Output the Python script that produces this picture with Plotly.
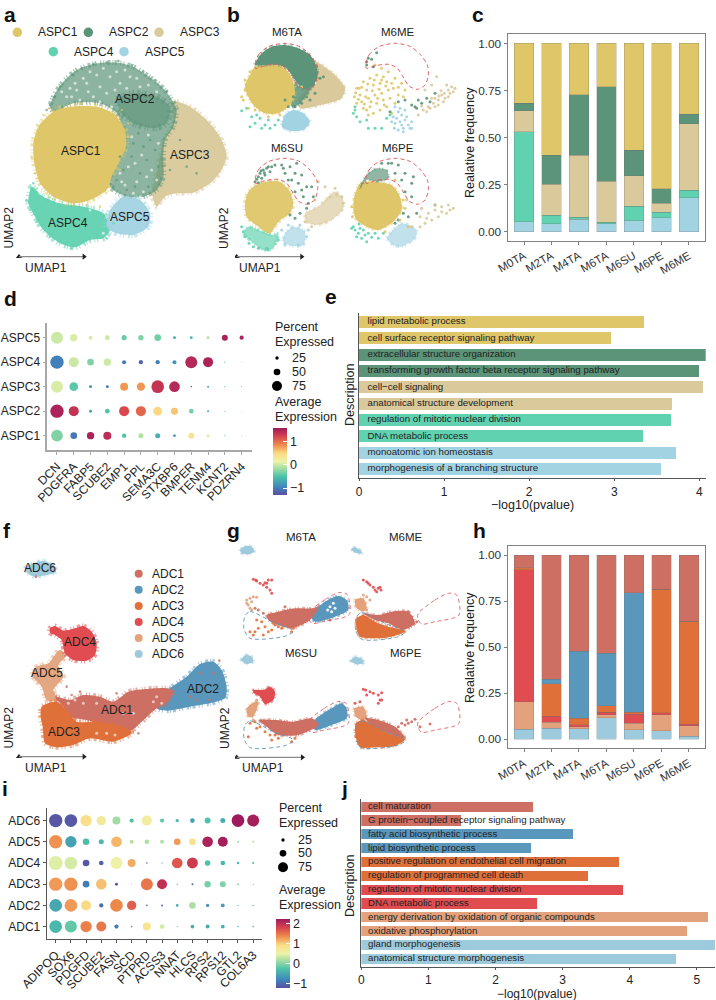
import plotly.graph_objects as go

W, H = 716, 1000
FONT = "Liberation Sans"

# ---------- palettes ----------
ASPC_COL = {"ASPC1": "#DEC669", "ASPC2": "#5B9478", "ASPC3": "#D9C99B", "ASPC4": "#60D2B0", "ASPC5": "#A2D3E2"}
ADC_COL = {"ADC1": "#CE6F63", "ADC2": "#5A97BC", "ADC3": "#E0703A", "ADC4": "#E04C50", "ADC5": "#E3A27C", "ADC6": "#9DCADC"}
EXPR_SCALE = [[0, "#5B50A2"], [0.12, "#3F86BC"], [0.28, "#4FC4A8"], [0.42, "#B5E2A3"], [0.5, "#EEF3A8"],
              [0.62, "#FBDC86"], [0.75, "#EE8A4B"], [0.88, "#D6414E"], [1, "#9E1A5C"]]

# ---------- composition bars ----------
SAMPLES = ["M0TA", "M2TA", "M4TA", "M6TA", "M6SU", "M6PE", "M6ME"]
ASPC_FREQ = {
    "ASPC5": [.053, .042, .065, .042, .058, .074, .181],
    "ASPC4": [.478, .045, .011, .009, .077, .029, .038],
    "ASPC3": [.111, .166, .331, .218, .162, .047, .353],
    "ASPC2": [.039, .154, .319, .501, .135, .078, .051],
    "ASPC1": [.319, .593, .274, .230, .568, .772, .377],
}
ADC_FREQ = {
    "ADC6": [.054, .061, .058, .118, .051, .047, .016],
    "ADC5": [.150, .031, .009, .014, .036, .085, .058],
    "ADC4": [.718, .033, .011, .016, .050, .011, .007],
    "ADC3": [.011, .177, .036, .035, .009, .671, .559],
    "ADC2": [.000, .023, .365, .284, .651, .000, .000],
    "ADC1": [.067, .675, .521, .533, .203, .186, .360],
}

# ---------- dot plots ----------
D_GENES = ["DCN", "PDGFRA", "FABP5", "SCUBE2", "EMP1", "PPL", "SEMA3C", "STXBP6", "BMPER", "TENM4", "KCNT2", "PDZRN4"]
D_ROWS = ["ASPC1", "ASPC2", "ASPC3", "ASPC4", "ASPC5"]
D_PCT = [
    [88, 50, 55, 60, 33, 38, 38, 20, 45, 22, 10, 8],
    [100, 75, 22, 35, 75, 75, 68, 52, 35, 15, 8, 5],
    [90, 65, 22, 22, 60, 62, 95, 80, 12, 15, 10, 8],
    [100, 75, 50, 55, 30, 32, 32, 30, 90, 75, 8, 5],
    [90, 55, 30, 35, 38, 40, 50, 22, 22, 22, 45, 32],
]
D_AVG = [
    [-.3, -1.05, 1.5, 1.4, -.5, -.1, -.65, -.85, .4, .05, -.3, -.2],
    [1.5, 1.35, -.75, -.5, 1.2, 1.05, .5, .6, -.35, -.7, -.6, -.6],
    [.05, -.45, -.9, -1.05, .8, .8, 1.35, 1.45, -1.0, -.7, -.4, -.3],
    [-1.0, 0, -.3, .0, -1.05, -1.15, -1.0, -.85, 1.45, 1.5, -.6, -.6],
    [0, .05, .05, 0, -.4, -.3, -.35, -.7, -.6, -.1, 1.5, 1.5],
]
I_GENES = ["ADIPOQ", "SOX6", "PDGFD", "SCUBE2", "FASN", "SCD", "PTPRD", "ACSS3", "NNAT", "HLCS", "RPS2", "RPS12", "GTL2", "COL6A3"]
I_ROWS = ["ADC1", "ADC2", "ADC3", "ADC4", "ADC5", "ADC6"]
I_PCT = [
    [95, 90, 85, 75, 32, 12, 60, 35, 8, 28, 30, 28, 12, 12],
    [95, 95, 75, 32, 95, 70, 12, 15, 20, 50, 25, 28, 8, 10],
    [100, 100, 50, 80, 22, 5, 90, 75, 8, 15, 48, 45, 12, 8],
    [105, 95, 50, 35, 90, 60, 12, 8, 80, 82, 42, 35, 18, 15],
    [100, 85, 50, 38, 80, 30, 35, 30, 50, 50, 80, 75, 15, 15],
    [100, 95, 85, 70, 60, 32, 75, 32, 25, 35, 45, 38, 95, 90],
]
I_AVG = [
    [-.4, -.2, 1.4, 1.45, -.9, -.8, .75, .35, -.6, -.5, -.5, -.5, -.3, -.4],
    [-.55, 1.25, .9, -1, 1.35, 1.6, -1.1, -.9, -.5, .15, -.7, -.65, -.5, -.5],
    [1.25, 1.3, -.9, 1.05, -1.2, -1, 1.45, 1.95, -.9, -1.1, -.1, -.05, -.5, -.6],
    [.4, .35, -1.2, -1.1, .5, 1.15, -1.1, -1, 1.65, 1.85, -.3, -.4, -.4, -.4],
    [1.3, -.6, -.35, -.4, 1.1, .2, .15, .2, 1.25, .8, 2.1, 2.15, .1, .2],
    [-1.2, -1.2, .85, .65, .1, -.3, .6, -.2, -.4, -.6, -.3, -.5, 2.2, 2.15],
]
LEGEND_PCT = [25, 50, 75]
PCT_TO_PX = 0.1333

# ---------- enrichment bars ----------
E_TERMS = ["lipid metabolic process", "cell surface receptor signaling pathway", "extracellular structure organization",
           "transforming growth factor beta receptor signaling pathway", "cell\u2212cell signaling",
           "anatomical structure development", "regulation of mitotic nuclear division", "DNA metabolic process",
           "monoatomic ion homeostasis", "morphogenesis of a branching structure"]
E_VALS = [3.35, 2.96, 4.075, 4.0, 4.04, 3.68, 3.67, 3.335, 3.73, 3.55]
E_GROUP = ["ASPC1", "ASPC1", "ASPC2", "ASPC2", "ASPC3", "ASPC3", "ASPC4", "ASPC4", "ASPC5", "ASPC5"]
J_TERMS = ["cell maturation", "G protein\u2212coupled receptor signaling pathway", "fatty acid biosynthetic process",
           "lipid biosynthetic process", "positive regulation of endothelial cell migration",
           "regulation of programmed cell death", "regulation of mitotic nuclear division", "DNA metabolic process",
           "energy derivation by oxidation of organic compounds", "oxidative phosphorylation", "gland morphogenesis",
           "anatomical structure morphogenesis"]
J_VALS = [2.56, 1.49, 3.15, 2.53, 3.84, 3.385, 3.90, 2.615, 5.16, 4.86, 5.27, 4.69]
J_GROUP = ["ADC1", "ADC1", "ADC2", "ADC2", "ADC3", "ADC3", "ADC4", "ADC4", "ADC5", "ADC5", "ADC6", "ADC6"]

# ---------- ASPC embedding: cluster outlines ----------
A_TAN = [(520, 305), (570, 320), (620, 360), (660, 410), (680, 465), (665, 510), (630, 550), (580, 578), (530, 580), (495, 590), (470, 620), (455, 580), (470, 520), (480, 470), (490, 420), (520, 370)]
A_GREEN = [(150, 320), (165, 280), (190, 245), (230, 210), (290, 190), (355, 188), (400, 200), (440, 225), (480, 255), (510, 290), (530, 330), (520, 380), (495, 420), (490, 470), (490, 530), (470, 570), (430, 590), (380, 590), (330, 560), (340, 500), (375, 430), (350, 340), (300, 310), (220, 310), (160, 335)]
A_GREEN_CORE = [(350, 300), (400, 280), (470, 290), (510, 320), (500, 370), (460, 385), (400, 370), (365, 340)]
A_YELLOW = [(160, 335), (210, 320), (290, 320), (340, 340), (375, 390), (378, 440), (360, 480), (335, 530), (320, 570), (270, 600), (220, 610), (160, 590), (120, 550), (103, 490), (100, 430), (115, 380)]
A_TEAL = [(95, 560), (130, 590), (180, 610), (250, 620), (310, 640), (330, 690), (310, 715), (270, 720), (225, 742), (180, 730), (130, 690), (105, 650), (85, 610), (88, 580)]
A_BLUE = [(370, 590), (420, 600), (450, 640), (445, 680), (400, 705), (350, 700), (320, 680), (330, 630)]
A_SPECK_GREEN = [(220, 225), (245, 205), (280, 193), (320, 187), (355, 183), (395, 195), (430, 215), (465, 240), (500, 275), (180, 260), (165, 290), (150, 315), (140, 330), (350, 540), (370, 510), (395, 470), (420, 520), (440, 480), (465, 450), (405, 560), (445, 560), (380, 570), (340, 560), (475, 500), (360, 470), (430, 440), (450, 420), (400, 430), (415, 400), (590, 520), (540, 420), (560, 500), (510, 510)]
A_SPECK_WHITE = [(230, 270), (260, 250), (300, 260), (330, 230), (280, 290), (240, 300), (200, 290), (360, 250), (390, 230), (420, 260), (320, 280), (350, 215), (290, 225), (250, 235), (210, 265), (300, 305), (335, 320), (455, 590), (430, 575), (400, 580), (365, 545), (470, 540), (440, 530), (350, 600), (310, 610), (200, 610), (120, 580), (270, 630), (310, 700), (185, 275), (225, 250), (270, 215), (310, 205), (375, 210), (410, 235), (445, 255), (470, 275), (215, 290), (265, 275), (345, 270), (380, 265), (395, 410), (425, 465), (385, 500), (455, 510), (410, 545), (360, 520), (445, 405), (475, 430), (405, 490), (375, 555), (420, 590)]
A_SPECK_YELLOW = [(130, 345), (95, 470), (105, 520), (140, 580), (200, 615), (260, 615), (300, 620), (360, 510), (385, 410), (240, 310), (180, 320), (385, 370), (365, 330), (150, 325)]
A_SPECK_TEAL = [(100, 550), (90, 630), (110, 665), (150, 710), (290, 705), (320, 715), (340, 670), (215, 745), (80, 600)]

# ---------- ASPC embedding split by sample ----------
B_RING = [(60, 195), (70, 165), (100, 140), (150, 130), (195, 140), (225, 165), (245, 195), (248, 225), (238, 255), (215, 268), (190, 258), (175, 235), (155, 205), (130, 193), (90, 197), (62, 205)]
B_RING_OFFSETS = [(0, 0), (332, 0), (0, 345), (332, 345)]

TA_GREEN = [(60, 195), (80, 160), (110, 140), (150, 135), (190, 145), (225, 165), (245, 200), (248, 230), (235, 255), (205, 268), (180, 240), (155, 205), (130, 195), (90, 195)]
TA_YELLOW = [(45, 225), (60, 200), (90, 195), (130, 195), (155, 210), (175, 245), (180, 285), (165, 315), (130, 340), (90, 340), (55, 315), (35, 280), (30, 255)]
TA_TAN = [(240, 185), (275, 205), (310, 235), (330, 265), (320, 295), (280, 310), (235, 320), (195, 325), (190, 300), (210, 275), (240, 255), (250, 220)]
TA_GREEN2 = [(180, 250), (205, 268), (240, 250), (215, 285), (190, 315), (170, 320)]
TA_BLUE = [(150, 345), (175, 330), (205, 340), (225, 365), (205, 390), (165, 392), (140, 380)]
TA_TEAL_PTS = [(20, 332), (35, 325), (45, 380), (60, 370), (75, 355), (90, 375), (100, 360), (105, 385), (120, 375), (130, 360), (80, 385), (65, 345), (50, 350)]
TA_GREEN_PTS = [(150, 300), (175, 290), (200, 310), (215, 290), (240, 280), (255, 235), (265, 230), (225, 300), (180, 320), (160, 320)]
TA_YELLOW_PTS = [(25, 300), (30, 270), (40, 325), (20, 290), (60, 330), (100, 350), (135, 345), (30, 240), (45, 215), (200, 260)]

ME_YELLOW_PTS = [(420, 195), (440, 205), (460, 215), (480, 235), (500, 250), (510, 270), (445, 230), (425, 225), (405, 235), (385, 245), (365, 265), (358, 290), (375, 285), (395, 270), (415, 255), (435, 250), (455, 245), (475, 265), (490, 285), (460, 270), (440, 280), (420, 285), (400, 295), (380, 305), (365, 310), (385, 325), (405, 320), (425, 310), (445, 300), (465, 295), (480, 310), (455, 320), (435, 330), (415, 340), (400, 345), (395, 330), (470, 340), (372, 265), (392, 290), (412, 272), (432, 268), (452, 258), (370, 298), (388, 312), (408, 305), (428, 295), (448, 315), (362, 278), (380, 262), (398, 252), (418, 240), (440, 240), (470, 250), (490, 262), (505, 290)]
ME_GREEN_PTS = [(400, 175), (425, 158), (410, 178), (395, 195), (415, 200), (395, 185), (490, 305), (510, 300), (530, 315), (545, 325), (560, 310), (575, 295), (585, 305), (550, 300), (600, 280), (465, 335), (540, 320)]
ME_TEAL_PTS = [(360, 320), (355, 340), (365, 350), (375, 365), (395, 360), (420, 385), (440, 385), (455, 355), (465, 345), (360, 330), (400, 385)]
ME_BLUE_PTS = [(480, 320), (490, 335), (475, 350), (500, 345), (510, 360), (495, 365), (480, 370), (520, 375), (505, 385), (490, 390), (530, 365), (525, 385), (470, 365), (510, 330), (485, 355), (500, 375), (515, 350), (495, 325), (505, 395), (478, 385), (530, 385)]
ME_TAN_PTS = [(650, 260), (640, 270), (620, 285), (630, 295), (610, 300), (595, 310), (580, 320), (565, 330), (550, 345), (640, 290), (655, 275), (625, 305), (600, 320), (610, 315), (575, 335), (590, 295), (660, 265), (605, 230), (590, 255), (570, 270), (635, 255), (618, 272), (628, 280), (600, 295), (645, 280), (585, 325), (560, 318), (612, 288)]

SU_YELLOW = [(55, 560), (90, 545), (135, 545), (165, 575), (175, 610), (165, 640), (130, 665), (105, 700), (70, 680), (35, 650), (30, 610), (40, 575)]
SU_TAN = [(210, 640), (250, 620), (300, 575), (325, 600), (325, 625), (290, 660), (245, 675), (215, 665)]
SU_TEAL = [(40, 680), (70, 690), (110, 705), (130, 700), (115, 745), (85, 750), (50, 725), (25, 700)]
SU_BLUE = [(150, 700), (175, 680), (210, 695), (205, 735), (170, 738), (145, 725)]
SU_GREEN_PTS = [(70, 530), (85, 510), (100, 500), (120, 495), (75, 520), (90, 525), (60, 545), (70, 548), (80, 535), (105, 515), (140, 495), (165, 500), (180, 520), (200, 525), (150, 520), (170, 540), (190, 550), (215, 560), (205, 590), (220, 610), (180, 575), (200, 570), (165, 645), (180, 655), (195, 640), (215, 625), (230, 560), (235, 590), (160, 540), (145, 505), (185, 490), (95, 505), (78, 512), (110, 500), (65, 538), (88, 518)]
SU_TAN_PTS = [(250, 545), (270, 560), (300, 565), (320, 590), (325, 610), (240, 600), (285, 590), (305, 585), (210, 665), (230, 680)]
SU_TEAL_PTS = [(20, 680), (30, 710), (55, 740), (95, 745), (25, 695), (130, 720), (100, 750), (70, 745), (42, 730)]
SU_BLUE_PTS = [(140, 690), (160, 675), (195, 675), (215, 710), (190, 735), (150, 735), (220, 690)]

PE_YELLOW = [(375, 550), (410, 545), (470, 555), (495, 590), (500, 630), (475, 665), (430, 690), (395, 680), (365, 660), (355, 630), (358, 590)]
PE_GREEN = [(375, 565), (390, 530), (425, 505), (455, 510), (460, 535), (430, 545), (395, 540)]
PE_BLUE = [(470, 695), (500, 670), (545, 690), (540, 715), (500, 740), (475, 735), (455, 715)]
PE_GREEN_PTS = [(470, 490), (490, 495), (510, 520), (530, 550), (510, 575), (530, 590), (480, 520), (500, 540), (535, 530), (545, 640), (520, 650), (490, 660), (480, 670), (505, 640), (600, 615), (440, 490), (460, 490)]
PE_TEAL_PTS = [(355, 680), (370, 700), (385, 690), (400, 700), (420, 700), (445, 700), (365, 710), (380, 715), (395, 725), (375, 685), (430, 715), (360, 690), (390, 705), (410, 712), (350, 685), (372, 672)]
PE_TAN_PTS = [(555, 650), (580, 640), (600, 630), (620, 620), (640, 615), (655, 625), (635, 640), (610, 650), (590, 660), (570, 670), (555, 680), (620, 635), (600, 615), (575, 655), (645, 630), (530, 680), (515, 600), (560, 625)]
PE_YELLOW_PTS = [(505, 600), (510, 625), (495, 660), (450, 695), (480, 540), (350, 620), (352, 650), (520, 680)]

# ---------- ADC embedding: cluster outlines ----------
F_ADC6 = [(75, 205), (100, 190), (130, 183), (160, 195), (168, 215), (140, 225), (105, 230), (85, 222)]
F_ADC4 = [(150, 385), (165, 378), (190, 392), (225, 385), (250, 378), (275, 395), (290, 430), (285, 465), (260, 482), (220, 480), (195, 460), (185, 420), (165, 405), (150, 398)]
F_ADC5 = [(178, 450), (200, 465), (175, 495), (190, 530), (160, 570), (175, 600), (140, 600), (125, 560), (95, 525), (110, 500), (145, 490), (165, 465)]
F_ADC1 = [(165, 590), (210, 600), (250, 585), (300, 590), (340, 605), (385, 575), (430, 568), (500, 565), (520, 575), (500, 610), (470, 625), (420, 670), (395, 690), (330, 680), (260, 660), (210, 650), (190, 620)]
F_ADC2 = [(510, 565), (560, 530), (600, 492), (640, 485), (665, 510), (680, 560), (675, 595), (630, 610), (570, 620), (500, 632), (470, 625), (490, 590)]
F_ADC3 = [(125, 620), (170, 605), (200, 630), (230, 665), (300, 665), (390, 690), (395, 700), (340, 725), (270, 715), (220, 735), (170, 742), (135, 730), (128, 680), (122, 650)]
F_ROSE_PTS = [(108, 230), (658, 482), (600, 520), (640, 520), (590, 600), (625, 600), (570, 590), (480, 600), (200, 560), (215, 585), (240, 575), (350, 580), (415, 700), (405, 680)]
F_WHITE_PTS = [(205, 610), (225, 600), (190, 590), (250, 610), (290, 610), (470, 590), (485, 610), (460, 605), (320, 700), (345, 705), (290, 700), (370, 640), (400, 640)]

# ---------- ADC embedding split by sample ----------
G_RING2 = [(550, 340), (600, 300), (640, 280), (665, 285), (672, 345), (600, 365), (560, 372), (548, 355)]
G_RING3 = [(365, 350), (380, 338), (450, 370), (510, 395), (490, 410), (380, 418), (362, 390)]
G_RING2_OFFSETS = [(-329, -2), (0, 0), (-332, 325), (0, 325)]
G_RING3_OFFSETS = [(-335, -3), (0, 0), (-335, 325), (0, 325)]

G_PANELS = {
    "ADC6": [[(15, 150), (30, 138), (50, 140), (58, 155), (40, 163), (20, 160)],
             [(348, 148), (360, 142), (380, 155), (380, 160), (360, 158)],
             [(18, 480), (35, 464), (50, 470), (55, 485), (35, 492)],
             [(346, 482), (362, 470), (385, 480), (385, 490), (365, 493)]],
    "ADC5": [[(360, 300), (385, 295), (395, 325), (385, 335), (365, 325)],
             [(35, 625), (60, 605), (70, 605), (55, 650), (40, 650)],
             [(358, 625), (385, 620), (395, 650), (385, 660), (362, 650)]],
    "ADC1": [[(95, 345), (130, 335), (180, 325), (235, 325), (250, 320), (225, 360), (170, 385), (130, 375), (100, 360)],
             [(385, 340), (430, 345), (470, 335), (520, 335), (540, 370), (505, 390), (460, 370), (420, 360)],
             [(70, 660), (120, 660), (175, 665), (230, 655), (250, 675), (190, 705), (130, 705), (95, 680)],
             [(390, 655), (430, 660), (480, 680), (505, 705), (510, 715), (460, 700), (415, 680)]],
    "ADC2": [[(225, 345), (270, 305), (310, 288), (335, 300), (340, 330), (300, 350), (240, 365)],
             [(240, 660), (290, 625), (320, 610), (335, 625), (335, 655), (290, 675), (240, 690)]],
    "ADC3": [[(365, 355), (385, 345), (420, 365), (460, 380), (505, 390), (510, 395), (470, 410), (420, 415), (375, 410), (365, 390)],
             [(362, 670), (385, 660), (420, 680), (460, 700), (510, 718), (480, 738), (420, 742), (375, 742), (362, 710)]],
    "ADC4": [[(55, 570), (85, 570), (105, 560), (120, 575), (115, 600), (90, 612), (75, 590), (55, 578)]],
}
G_POINTS = {
    "ADC4": [(55, 238), (65, 243), (75, 250), (85, 255), (95, 250), (110, 240), (100, 240), (95, 262), (105, 270), (110, 280), (90, 248), (62, 240),
             (385, 240), (395, 245), (405, 255), (415, 262), (430, 265), (438, 270), (425, 275), (420, 270), (435, 262), (400, 250),
             (385, 568), (392, 570), (405, 575), (415, 580), (430, 585), (440, 578), (435, 600), (430, 610), (395, 585), (360, 610), (375, 605), (440, 600)],
    "ADC5": [(35, 300), (45, 295), (55, 290), (65, 292), (40, 315), (45, 325), (50, 330), (35, 310), (50, 305),
             (385, 285), (395, 290), (405, 300), (395, 330), (65, 600), (55, 660)],
    "ADC3": [(45, 395), (60, 395), (70, 385), (90, 380), (110, 390), (120, 375), (170, 395), (175, 385), (80, 365), (100, 395), (55, 405), (85, 405), (130, 380), (115, 370), (65, 360), (140, 385),
             (45, 670), (60, 665), (75, 680), (90, 695), (110, 720), (120, 705), (130, 715), (170, 725), (180, 715), (65, 685), (40, 710), (105, 705)],
    "ADC1": [(85, 340), (70, 330), (60, 325), (150, 320), (285, 360), (520, 335), (530, 350), (545, 365),
             (485, 690), (490, 680), (500, 670), (515, 660), (530, 665), (540, 658), (555, 680), (585, 672), (520, 670), (510, 675)],
}
G_GAPS = [(285, 320), (295, 310), (278, 330), (300, 325), (290, 335)]


def dom(a, b, size):
    return [a / size, b / size]


def paper(px, py):
    return px / W, 1 - py / H


def rgba(hex_col, a):
    h = hex_col.lstrip("#")
    return "rgba(%d,%d,%d,%.3f)" % (int(h[:2], 16), int(h[2:4], 16), int(h[4:], 16), a)


fig = go.Figure()
layout = dict(width=W, height=H, margin=dict(l=0, r=0, t=0, b=0), autosize=False, showlegend=False,
              paper_bgcolor="white", plot_bgcolor="rgba(0,0,0,0)", font=dict(family=FONT, color="#222222"), bargap=0.29)
notes = []


def set_axes(n, left, top, right, bottom, xcfg, ycfg):
    sx = "" if n == 1 else str(n)
    x = dict(domain=dom(left, right, W), anchor="y" + sx, automargin=False)
    y = dict(domain=[1 - bottom / H, 1 - top / H], anchor="x" + sx, automargin=False)
    x.update(xcfg)
    y.update(ycfg)
    layout["xaxis" + sx] = x
    layout["yaxis" + sx] = y
    return ("x" + sx, "y" + sx)


def note(px, py, text, size=12, anchor="center", angle=0, bold=False, color="#222222"):
    x, y = paper(px, py)
    notes.append(dict(x=x, y=y, xref="paper", yref="paper", text="<b>%s</b>" % text if bold else text, showarrow=False,
                      xanchor=anchor, yanchor="middle", textangle=angle, font=dict(size=size, color=color, family=FONT)))


def umap_axes(n, left, width, top, ru, rv):
    return set_axes(n, left, top, left + width, top + 270,
                    dict(range=[0, ru], visible=False), dict(range=[rv, 0], visible=False))


def cloud(ax, outline, color, alpha=1.0, soft=4, pattern=None):
    # filled cluster body with an uneven broken stroke that frays its border like loose cells
    xs = [p[0] for p in outline] + [outline[0][0]]
    ys = [p[1] for p in outline] + [outline[0][1]]
    kw = {}
    if pattern:
        kw["fillpattern"] = dict(shape=".", size=pattern[0], solidity=pattern[1], fgcolor=color, bgcolor=rgba(color, pattern[2]))
    fig.add_trace(go.Scatter(x=xs, y=ys, xaxis=ax[0], yaxis=ax[1], mode="lines", fill="toself",
                             fillcolor=rgba(color, alpha),
                             line=dict(color=rgba(color, 0.55), width=soft, dash="1px,3px,3px,2px,1px,1px,2px,4px,1px,2px",
                                       shape="spline", smoothing=0.7),
                             hoverinfo="skip", **kw))


def dots(ax, pts, color, size=3, alpha=0.9):
    fig.add_trace(go.Scatter(x=[p[0] for p in pts], y=[p[1] for p in pts], xaxis=ax[0], yaxis=ax[1], mode="markers",
                             marker=dict(size=size, color=rgba(color, alpha), opacity=1, line=dict(width=0)), hoverinfo="skip"))


def ring(ax, pts, off, color):
    xs = [p[0] + off[0] for p in pts] + [pts[0][0] + off[0]]
    ys = [p[1] + off[1] for p in pts] + [pts[0][1] + off[1]]
    fig.add_trace(go.Scatter(x=xs, y=ys, xaxis=ax[0], yaxis=ax[1], mode="lines",
                             line=dict(color=color, width=0.9, dash="4px,3px", shape="spline", smoothing=0.8), hoverinfo="skip"))


def arrows(ax, ox, oy, xe, ye):
    for xx, yy, sym in (([ox, ox], [oy, ye], "triangle-up"), ([ox, xe], [oy, oy], "triangle-right")):
        fig.add_trace(go.Scatter(x=xx, y=yy, xaxis=ax[0], yaxis=ax[1], mode="lines",
                                 line=dict(color="#8a8a8a", width=1.3), hoverinfo="skip"))
        fig.add_trace(go.Scatter(x=[xx[1]], y=[yy[1]], xaxis=ax[0], yaxis=ax[1], mode="markers",
                                 marker=dict(symbol=sym, size=5.5, color="#222222", line=dict(width=0)), hoverinfo="skip"))


def stacked(ax, freq, colors):
    for name, vals in freq.items():
        fig.add_trace(go.Bar(x=SAMPLES, y=vals, xaxis=ax[0], yaxis=ax[1], width=0.71,
                             marker=dict(color=colors[name], line=dict(color="rgba(110,110,110,0.45)", width=0.6)), hoverinfo="skip"))


def freq_axes(n, top, bottom, ymin, ymax):
    return set_axes(n, 507.7, top, 705.3, bottom,
                    dict(type="category", categoryorder="array", categoryarray=SAMPLES, range=[-0.595, 6.6], tickangle=-30,
                         ticks="outside", ticklen=3, tickcolor="#808080", tickfont=dict(size=11.5, color="#333333"),
                         showline=True, linecolor="#808080", linewidth=1.3, mirror=True, showgrid=False, zeroline=False),
                    dict(range=[ymin, ymax], tickvals=[0, .25, .5, .75, 1], ticktext=["0.00", "0.25", "0.50", "0.75", "1.00"],
                         ticks="outside", ticklen=3, tickcolor="#808080", tickfont=dict(size=11.8, color="#333333"),
                         showline=True, linecolor="#808080", linewidth=1.3, mirror=True, showgrid=False, zeroline=False))


def dot_panel(n, left, top, right, bottom, genes, rows, pct, avg, xr, yr, cmin, cmax, cbar, axis_col, axis_w):
    ax = set_axes(n, left, top, right, bottom,
                  dict(type="category", categoryorder="array", categoryarray=genes, range=xr, tickangle=-45, ticks="outside", ticklen=3,
                       tickcolor=axis_col, tickfont=dict(size=12, color="#222222"), showline=True, linecolor=axis_col, linewidth=axis_w,
                       showgrid=False, zeroline=False),
                  dict(type="category", categoryorder="array", categoryarray=rows, range=yr, ticks="outside", ticklen=3,
                       tickcolor=axis_col, tickfont=dict(size=12, color="#222222"), showline=True, linecolor=axis_col, linewidth=axis_w,
                       showgrid=False, zeroline=False))
    xs, ys, sz, cs = [], [], [], []
    for r, row in enumerate(rows):
        for g, gene in enumerate(genes):
            xs.append(gene)
            ys.append(row)
            sz.append(pct[r][g] * PCT_TO_PX)
            cs.append(avg[r][g])
    fig.add_trace(go.Scatter(x=xs, y=ys, xaxis=ax[0], yaxis=ax[1], mode="markers", hoverinfo="skip",
                             marker=dict(size=sz, color=cs, cmin=cmin, cmax=cmax, opacity=1, colorscale=EXPR_SCALE,
                                         line=dict(width=0), colorbar=cbar)))
    return ax


def colorbar(left, top, length, tickvals, ticktext):
    return dict(x=left / W, xanchor="left", y=1 - top / H, yanchor="top", len=length, lenmode="pixels", thickness=14, thicknessmode="pixels",
                xpad=0, ypad=0, outlinewidth=0, ticks="inside", ticklen=4, tickwidth=1, tickcolor="white", tickvals=tickvals, ticktext=ticktext,
                tickfont=dict(size=12.5, color="#222222", family=FONT))


def term_panel(n, left, top, right, bottom, terms, vals, groups, colors, xmax, yspan):
    ax = set_axes(n, left, top, right, bottom,
                  dict(range=[0, xmax], tickvals=list(range(int(xmax) + 1)), ticks="outside", ticklen=2, tickcolor="#555555",
                       tickfont=dict(size=12, color="#222222"), showline=True, linecolor="#555555", linewidth=1, showgrid=False, zeroline=False),
                  dict(type="category", categoryorder="array", categoryarray=terms, range=yspan, showticklabels=False, ticks="",
                       showline=True, linecolor="#555555", linewidth=1, showgrid=False, zeroline=False))
    fig.add_trace(go.Bar(x=vals, y=terms, orientation="h", xaxis=ax[0], yaxis=ax[1], width=0.73,
                         marker=dict(color=[colors[g] for g in groups], line=dict(width=0)), hoverinfo="skip"))
    fig.add_trace(go.Scatter(x=[0.1] * len(terms), y=terms, xaxis=ax[0], yaxis=ax[1], mode="text", text=terms, textposition="middle right",
                             textfont=dict(size=9.7, color="#222222", family=FONT), cliponaxis=False, hoverinfo="skip"))
    return ax


# ---------- a: ASPC embedding ----------
ax_a = umap_axes(1, 0, 240, 0, 720, 810)
cloud(ax_a, A_TAN, ASPC_COL["ASPC3"], 0.95, 5)
cloud(ax_a, A_GREEN, ASPC_COL["ASPC2"], 0.72, 5, pattern=(2, 0.7, 0.55))
cloud(ax_a, A_GREEN_CORE, ASPC_COL["ASPC2"], 0.6, 6)
cloud(ax_a, A_TEAL, ASPC_COL["ASPC4"], 0.95, 6)
cloud(ax_a, A_YELLOW, ASPC_COL["ASPC1"], 1, 6)
cloud(ax_a, A_BLUE, ASPC_COL["ASPC5"], 0.95, 6)
dots(ax_a, A_SPECK_GREEN, ASPC_COL["ASPC2"], 2.6, 0.7)
dots(ax_a, A_SPECK_WHITE, "#FFFFFF", 3, 0.6)
dots(ax_a, A_SPECK_YELLOW, ASPC_COL["ASPC1"], 2.6, 0.7)
dots(ax_a, A_SPECK_TEAL, ASPC_COL["ASPC4"], 2.6, 0.7)
arrows(ax_a, 57, 770, 252, 770)
for name, zx, zy in (("ASPC1", 52, 97), ("ASPC2", 265, 97), ("ASPC3", 477, 97), ("ASPC4", 160, 155), ("ASPC5", 372, 155)):
    dots(ax_a, [(zx, zy)], ASPC_COL[name], 9.5, 1)
    note(zx / 3 + 18.5, zy / 3, name, 12, "left")
for name, px, py in (("ASPC2", 135, 99), ("ASPC1", 80.5, 151), ("ASPC3", 190.5, 155), ("ASPC4", 67.5, 223), ("ASPC5", 130, 217)):
    note(px, py, name, 12)
note(8.5, 228, "UMAP2", 12, angle=-90)
note(46, 268, "UMAP1", 12)

# ---------- b: ASPC embedding by sample ----------
ax_b = umap_axes(2, 235, 230, 0, 690, 810)
cloud(ax_b, TA_TAN, ASPC_COL["ASPC3"], 1, 3)
cloud(ax_b, TA_GREEN2, ASPC_COL["ASPC2"], 0.85, 3)
cloud(ax_b, TA_BLUE, ASPC_COL["ASPC5"], 1, 3)
cloud(ax_b, TA_YELLOW, ASPC_COL["ASPC1"], 1, 3)
cloud(ax_b, TA_GREEN, ASPC_COL["ASPC2"], 1, 3)
dots(ax_b, TA_TEAL_PTS, ASPC_COL["ASPC4"])
dots(ax_b, TA_GREEN_PTS, ASPC_COL["ASPC2"])
dots(ax_b, TA_YELLOW_PTS, ASPC_COL["ASPC1"])
dots(ax_b, ME_YELLOW_PTS, ASPC_COL["ASPC1"])
dots(ax_b, ME_GREEN_PTS, ASPC_COL["ASPC2"])
dots(ax_b, ME_TEAL_PTS, ASPC_COL["ASPC4"])
dots(ax_b, ME_BLUE_PTS, ASPC_COL["ASPC5"])
dots(ax_b, ME_TAN_PTS, ASPC_COL["ASPC3"])
cloud(ax_b, SU_TAN, ASPC_COL["ASPC3"], 0.85, 3, pattern=(2, 0.7, 0.5))
cloud(ax_b, SU_YELLOW, ASPC_COL["ASPC1"], 0.95, 4)
cloud(ax_b, SU_TEAL, ASPC_COL["ASPC4"], 0.8, 3, pattern=(2, 0.7, 0.5))
cloud(ax_b, SU_BLUE, ASPC_COL["ASPC5"], 0.8, 3, pattern=(2, 0.7, 0.5))
dots(ax_b, SU_GREEN_PTS, ASPC_COL["ASPC2"])
dots(ax_b, SU_TAN_PTS, ASPC_COL["ASPC3"])
dots(ax_b, SU_TEAL_PTS, ASPC_COL["ASPC4"])
dots(ax_b, SU_BLUE_PTS, ASPC_COL["ASPC5"])
cloud(ax_b, PE_YELLOW, ASPC_COL["ASPC1"], 1, 3)
cloud(ax_b, PE_GREEN, ASPC_COL["ASPC2"], 0.85, 2, pattern=(2, 0.7, 0.5))
cloud(ax_b, PE_BLUE, ASPC_COL["ASPC5"], 0.85, 3, pattern=(2, 0.7, 0.5))
dots(ax_b, PE_GREEN_PTS, ASPC_COL["ASPC2"])
dots(ax_b, PE_TEAL_PTS, ASPC_COL["ASPC4"])
dots(ax_b, PE_TAN_PTS, ASPC_COL["ASPC3"])
dots(ax_b, PE_YELLOW_PTS, ASPC_COL["ASPC1"])
for off in B_RING_OFFSETS:
    ring(ax_b, B_RING, off, "#E0505A")
arrows(ax_b, 5, 770, 200, 770)
for t, px, py in (("M6TA", 286.7, 31.7), ("M6ME", 398, 31.7), ("M6SU", 287.3, 147.7), ("M6PE", 397.7, 147.7)):
    note(px, py, t, 11.5)
note(224, 228, "UMAP2", 12, angle=-90)
note(260, 268, "UMAP1", 12)

# ---------- c: ASPC composition ----------
ax_c = freq_axes(3, 34, 240.7, -0.048, 1.05)
stacked(ax_c, ASPC_FREQ, ASPC_COL)
note(470, 142, "Realative frequency", 12.5, angle=-90)

# ---------- d: ASPC marker dots ----------
dot_panel(4, 47.3, 323.3, 251.7, 450, D_GENES, D_ROWS, D_PCT, D_AVG, [-0.577, 11.6], [-0.585, 4.585], -1.3, 1.58,
          colorbar(272.7, 428, 67, [-1, 0, 1], ["\u22121", "0", "1"]), "#A8A8A8", 1.6)

# ---------- e: ASPC enrichment ----------
term_panel(5, 359, 312.7, 705.7, 478.3, E_TERMS, E_VALS, E_GROUP, ASPC_COL, 4.075, [9.57, -0.57])
note(350, 395, "Description", 12.5, angle=-90)
note(532, 505, "\u2212log10(pvalue)", 12.5)

# ---------- f: ADC embedding ----------
ax_f = umap_axes(6, 0, 240, 500, 720, 810)
cloud(ax_f, F_ADC6, ADC_COL["ADC6"], 1, 4)
cloud(ax_f, F_ADC5, ADC_COL["ADC5"], 0.95, 5)
cloud(ax_f, F_ADC4, ADC_COL["ADC4"], 1, 5)
cloud(ax_f, F_ADC2, ADC_COL["ADC2"], 1, 5)
cloud(ax_f, F_ADC1, ADC_COL["ADC1"], 1, 5)
cloud(ax_f, F_ADC3, ADC_COL["ADC3"], 1, 5)
dots(ax_f, F_ROSE_PTS, ADC_COL["ADC1"], 2.6, 0.8)
dots(ax_f, F_WHITE_PTS, "#FFFFFF", 3, 0.6)
arrows(ax_f, 57, 770, 252, 770)
for i, name in enumerate(I_ROWS):
    zy = [221, 269, 318, 366, 414, 462][i]
    dots(ax_f, [(416, zy)], ADC_COL[name], 8, 1)
    note(150, 500 + zy / 3, name, 12, "left")
for name, px, py in (("ADC6", 39.5, 568), ("ADC4", 80, 642), ("ADC5", 47, 673), ("ADC1", 117.5, 710), ("ADC2", 203, 689), ("ADC3", 63.5, 732)):
    note(px, py, name, 12)
note(8.5, 728, "UMAP2", 12, angle=-90)
note(46, 768, "UMAP1", 12)

# ---------- g: ADC embedding by sample ----------
ax_g = umap_axes(7, 235, 230, 500, 690, 810)
for name in ("ADC6", "ADC5", "ADC4", "ADC2", "ADC1", "ADC3"):
    for outline in G_PANELS[name]:
        cloud(ax_g, outline, ADC_COL[name], 1, 3)
for name, pts in G_POINTS.items():
    dots(ax_g, pts, ADC_COL[name], 3, 0.9)
dots(ax_g, G_GAPS, "#FFFFFF", 3, 0.9)
for off in G_RING2_OFFSETS:
    ring(ax_g, G_RING2, off, "#E0606A")
for off in G_RING3_OFFSETS:
    ring(ax_g, G_RING3, off, "#5A97BC")
arrows(ax_g, 5, 772, 202, 772)
for t, px, py in (("M6TA", 300.7, 537), ("M6ME", 405.7, 537), ("M6SU", 301, 652.7), ("M6PE", 405.7, 652.7)):
    note(px, py, t, 11.5)
note(225, 728, "UMAP2", 12, angle=-90)
note(263, 768, "UMAP1", 12)

# ---------- h: ADC composition ----------
ax_h = freq_axes(8, 546, 748.3, -0.049, 1.05)
stacked(ax_h, ADC_FREQ, ADC_COL)
note(470, 647, "Realative frequency", 12.5, angle=-90)

# ---------- i: ADC marker dots ----------
dot_panel(9, 46.7, 808.3, 262.3, 939.3, I_GENES, I_ROWS, I_PCT, I_AVG, [-0.592, 13.6], [-0.6, 5.58], -1.25, 2.2,
          colorbar(276, 919.3, 69, [-1, 0, 1, 2], ["\u22121", "0", "1", "2"]), "#555555", 1)

# ---------- j: ADC enrichment ----------
term_panel(10, 361.3, 799, 715, 966.5, J_TERMS, J_VALS, J_GROUP, ADC_COL, 5.27, [11.55, -0.55])
note(350, 886, "Description", 12.5, angle=-90)
note(536.7, 993.5, "\u2212log10(pvalue)", 12)

# ---------- size legends ----------
ax_leg = set_axes(11, 0, 0, W, H, dict(range=[0, W], visible=False), dict(range=[H, 0], visible=False))
for lx, ly, title_y, avg_y in ((277, [358, 372, 386], (327, 342), (402, 417)), (283, [840, 853.3, 867.3], (808, 823), (890, 905))):
    fig.add_trace(go.Scatter(x=[lx] * 3, y=ly, xaxis=ax_leg[0], yaxis=ax_leg[1], mode="markers", hoverinfo="skip",
                             marker=dict(size=[p * PCT_TO_PX for p in LEGEND_PCT], color="black", opacity=1, line=dict(width=0))))
    for p, yy in zip(LEGEND_PCT, ly):
        note(lx + 13, yy, str(p), 12.5, "left")
    tx = lx - 4 if lx == 277 else lx - 6
    note(tx, title_y[0], "Percent", 12.5, "left")
    note(tx, title_y[1], "Expressed", 12.5, "left")
    note(tx, avg_y[0], "Average", 12.5, "left")
    note(tx, avg_y[1], "Expression", 12.5, "left")

# ---------- panel letters ----------
for letter, px, py in (("a", 10, 14), ("b", 233, 14), ("c", 478, 14), ("d", 10, 299), ("e", 331, 297),
                       ("f", 7, 530), ("g", 233, 530), ("h", 480, 530), ("i", 5, 788), ("j", 344, 788)):
    note(px, py, letter, 21, bold=True, color="#111111")

layout["annotations"] = notes
layout["barmode"] = "stack"
fig.update_layout(**layout)
fig.write_html("out.html")
